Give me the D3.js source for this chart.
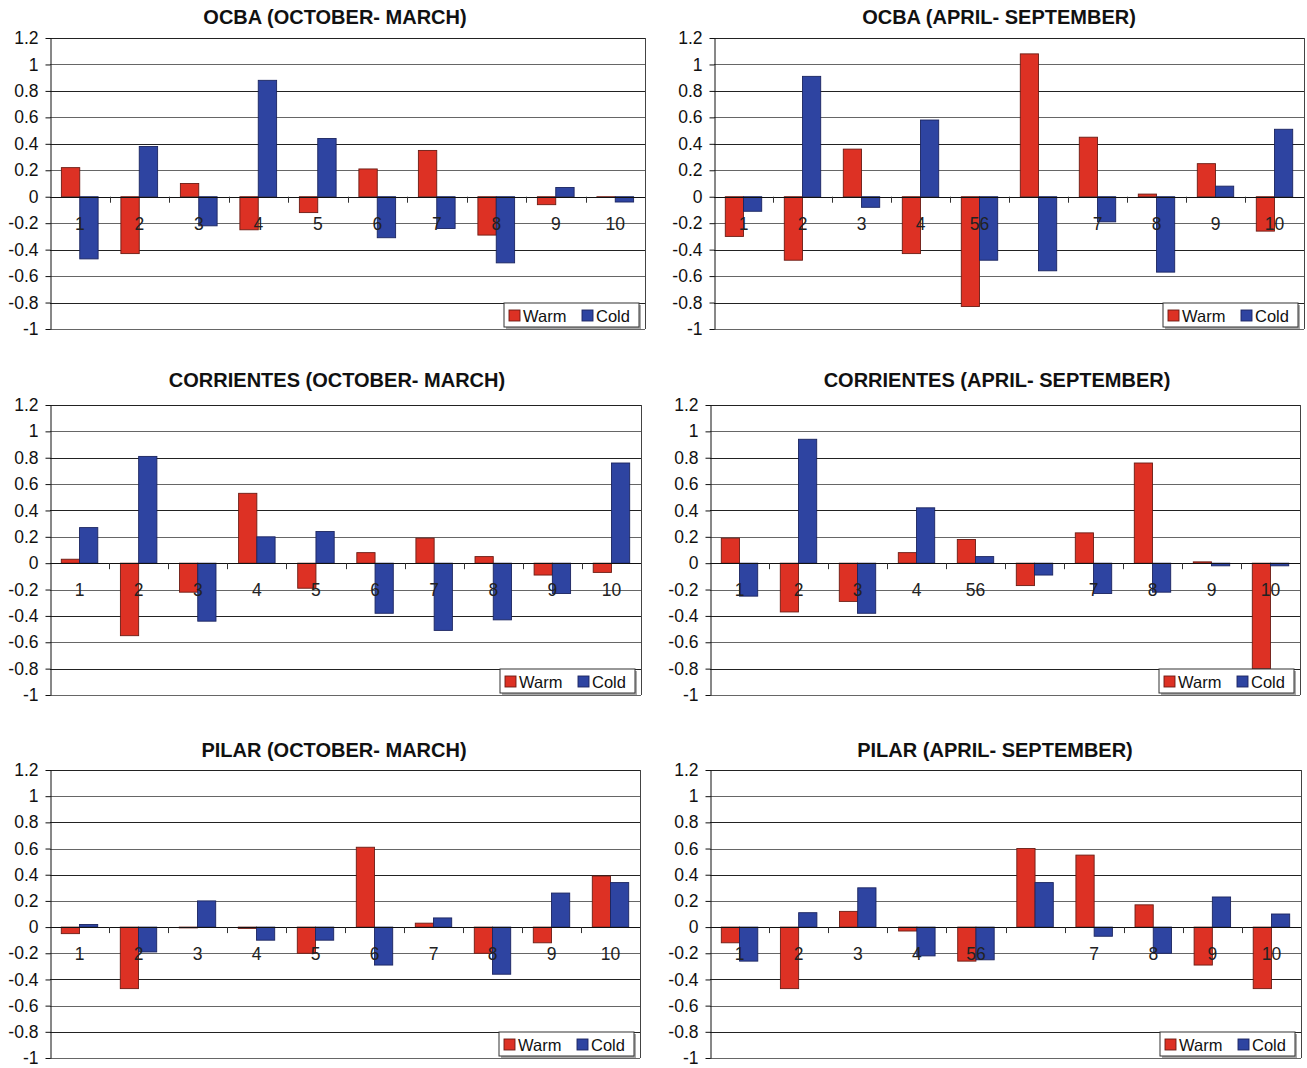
<!DOCTYPE html>
<html>
<head>
<meta charset="utf-8">
<script src="https://cdn.jsdelivr.net/npm/d3@7"></script>
<style>
  html, body { margin: 0; padding: 0; background: #fff; }
  svg { display: block; font-family: "Liberation Sans", Arial, Helvetica, sans-serif; }
</style>
</head>
<body>
<svg id="chart" width="1307" height="1068"></svg>
<script>
// Category labels (the April-September charts label the 5th slot "56" and leave the 6th blank)
const catsOctMar = ["1", "2", "3", "4", "5", "6", "7", "8", "9", "10"];
const catsAprSep = ["1", "2", "3", "4", "56", "", "7", "8", "9", "10"];
const seriesNames = ["Warm", "Cold"];
const yTicks = [1.2, 1, 0.8, 0.6, 0.4, 0.2, 0, -0.2, -0.4, -0.6, -0.8, -1];

// OCBA
const ocbaOctMarWarm = [0.22, -0.43, 0.10, -0.25, -0.12, 0.21, 0.35, -0.29, -0.06, -0.005];
const ocbaOctMarCold = [-0.47, 0.38, -0.22, 0.88, 0.44, -0.31, -0.24, -0.50, 0.07, -0.04];
const ocbaAprSepWarm = [-0.30, -0.48, 0.36, -0.43, -0.83, 1.08, 0.45, 0.02, 0.25, -0.26];
const ocbaAprSepCold = [-0.11, 0.91, -0.08, 0.58, -0.48, -0.56, -0.19, -0.57, 0.08, 0.51];

// CORRIENTES
const corrOctMarWarm = [0.03, -0.55, -0.22, 0.53, -0.19, 0.08, 0.19, 0.05, -0.09, -0.07];
const corrOctMarCold = [0.27, 0.81, -0.44, 0.20, 0.24, -0.38, -0.51, -0.43, -0.23, 0.76];
const corrAprSepWarm = [0.19, -0.37, -0.29, 0.08, 0.18, -0.17, 0.23, 0.76, 0.01, -0.80];
const corrAprSepCold = [-0.25, 0.94, -0.38, 0.42, 0.05, -0.09, -0.23, -0.22, -0.02, -0.02];

// PILAR
const pilarOctMarWarm = [-0.05, -0.47, -0.005, -0.01, -0.20, 0.61, 0.03, -0.20, -0.12, 0.39];
const pilarOctMarCold = [0.02, -0.19, 0.20, -0.10, -0.10, -0.29, 0.07, -0.36, 0.26, 0.34];
const pilarAprSepWarm = [-0.12, -0.47, 0.12, -0.03, -0.26, 0.60, 0.55, 0.17, -0.29, -0.47];
const pilarAprSepCold = [-0.26, 0.11, 0.30, -0.22, -0.25, 0.34, -0.07, -0.20, 0.23, 0.10];

const colors = { Warm: "#dd3124", Cold: "#2e44a1" };
const strokes = { Warm: "#6b1c14", Cold: "#1b2560" };

// Panel layout: plot-area box and title per chart
const panels = [
  { title: "OCBA (OCTOBER- MARCH)", cats: catsOctMar, warm: ocbaOctMarWarm, cold: ocbaOctMarCold,
    x0: 50, x1: 645, y0: 38, y1: 329, ty: 24, tx: 335 },
  { title: "OCBA (APRIL- SEPTEMBER)", cats: catsAprSep, warm: ocbaAprSepWarm, cold: ocbaAprSepCold,
    x0: 714, x1: 1304, y0: 38, y1: 329, ty: 24, tx: 999 },
  { title: "CORRIENTES (OCTOBER- MARCH)", cats: catsOctMar, warm: corrOctMarWarm, cold: corrOctMarCold,
    x0: 50, x1: 641, y0: 405, y1: 695, ty: 387, tx: 337 },
  { title: "CORRIENTES (APRIL- SEPTEMBER)", cats: catsAprSep, warm: corrAprSepWarm, cold: corrAprSepCold,
    x0: 710, x1: 1300, y0: 405, y1: 695, ty: 387, tx: 997 },
  { title: "PILAR (OCTOBER- MARCH)", cats: catsOctMar, warm: pilarOctMarWarm, cold: pilarOctMarCold,
    x0: 50, x1: 640, y0: 770, y1: 1058, ty: 757, tx: 334 },
  { title: "PILAR (APRIL- SEPTEMBER)", cats: catsAprSep, warm: pilarAprSepWarm, cold: pilarAprSepCold,
    x0: 710, x1: 1301, y0: 770, y1: 1058, ty: 757, tx: 995 }
];

const svg = d3.select("#chart");

panels.forEach(p => {
  const g = svg.append("g");
  const idx = d3.range(p.cats.length);

  const y = d3.scaleLinear().domain([-1, 1.2]).range([p.y1, p.y0]);
  const x = d3.scaleBand().domain(idx).range([p.x0, p.x1]).padding(0);
  const xs = d3.scaleBand().domain(seriesNames).range([0, x.bandwidth()])
    .paddingInner(0).paddingOuter(0.62);

  // title
  g.append("text")
    .attr("x", p.tx).attr("y", p.ty)
    .attr("text-anchor", "middle")
    .attr("font-size", 20).attr("font-weight", "bold")
    .attr("fill", "#111")
    .text(p.title);

  // horizontal gridlines
  g.append("g").selectAll("line")
    .data(yTicks)
    .join("line")
    .attr("x1", p.x0).attr("x2", p.x1)
    .attr("y1", d => Math.round(y(d)) + 0.5).attr("y2", d => Math.round(y(d)) + 0.5)
    .attr("stroke", (d, i) => i % 2 === 0 ? "#222" : "#666")
    .attr("stroke-width", 1);

  // right border
  g.append("line")
    .attr("x1", p.x1 + 0.5).attr("x2", p.x1 + 0.5)
    .attr("y1", y(1.2)).attr("y2", y(-1))
    .attr("stroke", "#444");

  // bars
  const rows = idx.map(i => ({ i, Warm: p.warm[i], Cold: p.cold[i] }));
  const grp = g.append("g").selectAll("g")
    .data(rows)
    .join("g")
    .attr("transform", d => `translate(${x(d.i)},0)`);

  grp.selectAll("rect")
    .data(d => seriesNames.map(s => ({ s, v: d[s] })))
    .join("rect")
    .attr("x", d => xs(d.s))
    .attr("width", xs.bandwidth())
    .attr("y", d => Math.min(y(d.v), y(0)))
    .attr("height", d => Math.max(Math.abs(y(d.v) - y(0)), 0.8))
    .attr("fill", d => colors[d.s])
    .attr("stroke", d => strokes[d.s])
    .attr("stroke-width", 0.9);

  // zero axis with category ticks
  g.append("line")
    .attr("x1", p.x0).attr("x2", p.x1)
    .attr("y1", Math.round(y(0)) + 0.5).attr("y2", Math.round(y(0)) + 0.5)
    .attr("stroke", "#111");
  g.append("g").selectAll("line")
    .data(d3.range(1, p.cats.length))
    .join("line")
    .attr("x1", d => Math.round(p.x0 + d * x.step()) + 0.5)
    .attr("x2", d => Math.round(p.x0 + d * x.step()) + 0.5)
    .attr("y1", y(0)).attr("y2", y(0) + 6)
    .attr("stroke", "#333");

  // category labels just below the zero line
  g.append("g").selectAll("text")
    .data(idx)
    .join("text")
    .attr("x", d => x(d) + x.bandwidth() / 2)
    .attr("y", y(0) + 33)
    .attr("text-anchor", "middle")
    .attr("font-size", 17.5)
    .attr("fill", "#222")
    .text(d => p.cats[d]);

  // y axis
  const yAxis = d3.axisLeft(y).tickValues(yTicks)
    .tickFormat(d => String(+d.toFixed(1)))
    .tickSize(5).tickSizeOuter(0);
  const ya = g.append("g").attr("transform", `translate(${p.x0 + 0.5},0)`).call(yAxis);
  ya.select(".domain").attr("stroke", "#111");
  ya.selectAll(".tick line").attr("stroke", "#111");
  ya.selectAll(".tick text")
    .attr("font-size", 17.5).attr("fill", "#111")
    .attr("font-family", "'Liberation Sans', Arial, sans-serif")
    .attr("x", -12);

  // legend
  const lw = 135, lh = 24;
  const lx = p.x1 - lw - 6, ly = p.y1 - lh - 2;
  const leg = g.append("g").attr("transform", `translate(${lx},${ly})`);
  leg.append("rect").attr("x", 2).attr("y", 2).attr("width", lw).attr("height", lh)
    .attr("fill", "#aaa");
  leg.append("rect").attr("width", lw).attr("height", lh)
    .attr("fill", "#fff").attr("stroke", "#333").attr("stroke-width", 1);
  seriesNames.forEach((s, k) => {
    const ox = 5 + k * 73;
    leg.append("rect").attr("x", ox).attr("y", 7).attr("width", 11).attr("height", 11)
      .attr("fill", colors[s]).attr("stroke", strokes[s]).attr("stroke-width", 0.9);
    leg.append("text").attr("x", ox + 14).attr("y", 18.5)
      .attr("font-size", 16.5).attr("fill", "#111").text(s);
  });
});
</script>
</body>
</html>
